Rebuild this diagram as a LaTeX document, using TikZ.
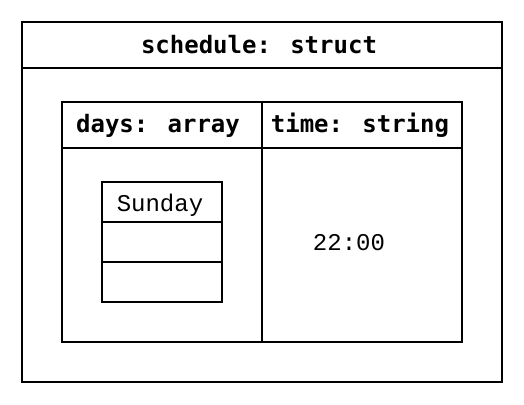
\documentclass[tikz,border=0pt]{standalone}
\usepackage{fontspec}
\newfontfamily\hdrfont{DejaVu Sans Mono}
\newfontfamily\valfont{Liberation Mono}
\begin{document}
\begin{tikzpicture}[x=1pt,y=-1pt,
  box/.style={draw=black,line width=2pt,rectangle,inner sep=0pt,anchor=north west},
  hdr/.style={anchor=base,inner sep=0pt,font=\hdrfont\bfseries\fontsize{24}{28}\selectfont},
  val/.style={anchor=base,inner sep=0pt,font=\valfont\fontsize{24}{28}\selectfont}]
\useasboundingbox (0,0) rectangle (524,404);
\fill[white] (0,0) rectangle (524,404);
% outer struct
\node[box,minimum width=480pt,minimum height=360pt] (outer) at (21,21) {};
\node[box,minimum width=480pt,minimum height=46pt] (titlebox) at (21,21) {};
\node[hdr] (title) at (259,54) {schedule: struct};
% inner table
\node[box,minimum width=200pt,minimum height=46pt] (daysh) at (61,101) {};
\node[box,minimum width=200pt,minimum height=46pt] (timeh) at (261,101) {};
\node[box,minimum width=200pt,minimum height=194pt] (daysb) at (61,147) {};
\node[box,minimum width=200pt,minimum height=194pt] (timeb) at (261,147) {};
\node[hdr] (dayst) at (158,132) {days: array};
\node[hdr] (timet) at (360,132) {time: string};
% array cells
\node[box,minimum width=120pt,minimum height=40pt] (a1) at (101,181) {};
\node[box,minimum width=120pt,minimum height=40pt] (a2) at (101,221) {};
\node[box,minimum width=120pt,minimum height=40pt] (a3) at (101,261) {};
\node[val] (sun) at (160,211) {Sunday};
\node[val] (tval) at (349,250) {22:00};
\end{tikzpicture}
\end{document}
